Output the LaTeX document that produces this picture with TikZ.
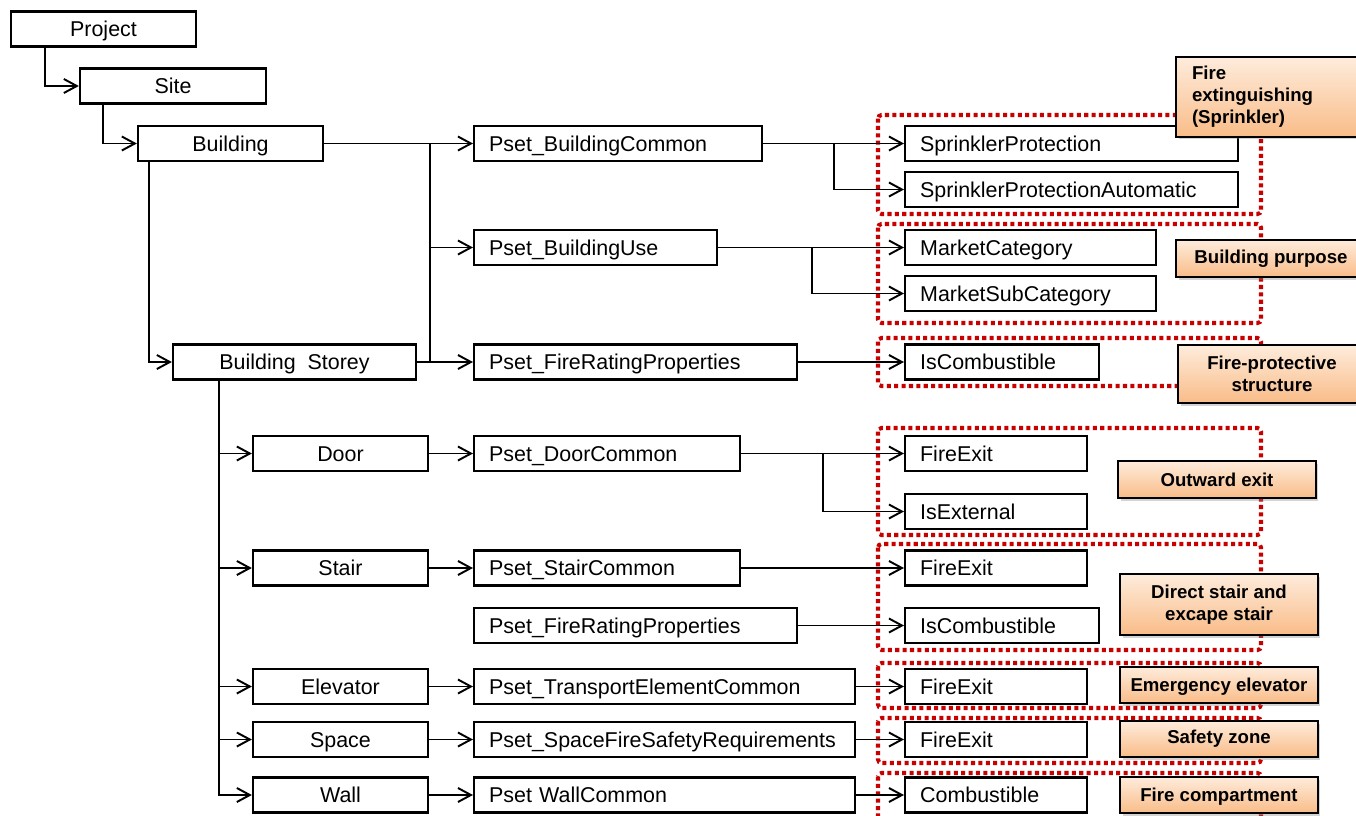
\documentclass[tikz,border=0pt]{standalone}
\usepackage{fontspec}
\setmainfont{Liberation Sans}
\usetikzlibrary{arrows.meta,shadows}
\definecolor{zonered}{RGB}{200,0,0}
\definecolor{notetop}{RGB}{254,236,220}
\definecolor{notebottom}{RGB}{249,188,136}
\hyphenpenalty=10000

\begin{document}
\begin{tikzpicture}[x=0.02cm, y=-0.02cm,
  box/.style={draw, fill=white, line width=1.3pt, minimum height=0.7cm, inner sep=0pt, text height=11.7pt, text depth=3pt, font=\fontsize{12.2}{15}\selectfont},
  cbox/.style={box, minimum width=#1},
  lbox/.style={box, anchor=west, text width=#1, align=left, inner xsep=0.3cm},
  note/.style={draw, line width=1.3pt, top color=notetop, bottom color=notebottom, inner sep=0pt, align=center, font=\fontsize{10.6}{12.5}\selectfont\bfseries, drop shadow={shadow xshift=0.05cm, shadow yshift=-0.05cm, opacity=0.35}},
  zone/.style={draw=zonered, line width=2.3pt, dash pattern=on 2.3pt off 1.9pt, rounded corners=2pt},
  arr/.style={line width=1.1pt, -{Straight Barb[length=0.26cm, width=0.28cm]}}]
\useasboundingbox (0,0) rectangle (1356,815);
\clip (0,0) rectangle (1356,815);

\foreach \ya/\yb in {115/214, 224/323, 338/386, 428/535, 544/650, 663/708, 718/763, 773/840}
  \draw[zone] (878,\ya) rectangle (1261,\yb);

\node[cbox=3.7cm] (Project) at (103.5,29) {Project};
\node[cbox=3.72cm] (Site) at (173,86) {Site};
\node[cbox=3.7cm] (Building) at (230.5,143.5) {Building};
\node[cbox=4.86cm] (Storey) at (294.5,362) {Building\ \ Storey};

\node[lbox=5.16cm] (PBC) at (473,143.5) {Pset\_BuildingCommon};
\node[lbox=4.26cm] (PBU) at (473,247.5) {Pset\_BuildingUse};
\node[lbox=5.86cm] (PFR) at (473,362) {Pset\_FireRatingProperties};

\node[lbox=6.06cm] (SP) at (904,143.5) {SprinklerProtection};
\node[lbox=6.06cm] (SPA) at (904,189.5) {SprinklerProtectionAutomatic};
\node[lbox=4.42cm] (MC) at (904,247.5) {MarketCategory};
\node[lbox=4.42cm] (MSC) at (904,293.5) {MarketSubCategory};
\node[lbox=3.28cm] (IsComb) at (904,362) {IsCombustible};

\node[cbox=3.5cm] (Door) at (340.5,453.5) {Door};
\node[lbox=4.72cm] (PDC) at (473,453.5) {Pset\_DoorCommon};
\node[lbox=3.04cm] (FireExitA) at (904,453.5) {FireExit};
\node[lbox=3.04cm] (IsExt) at (904,511.5) {IsExternal};

\node[cbox=3.5cm] (Stair) at (340.5,568) {Stair};
\node[lbox=4.72cm] (PSC) at (473,568) {Pset\_StairCommon};
\node[lbox=3.04cm] (FireExitB) at (904,568) {FireExit};
\node[lbox=5.86cm] (PFRB) at (473,625.5) {Pset\_FireRatingProperties};
\node[lbox=3.28cm] (IsCombB) at (904,625.5) {IsCombustible};

\node[cbox=3.5cm] (Elevator) at (340.5,686.5) {Elevator};
\node[lbox=7.02cm] (PTEC) at (473,686.5) {Pset\_TransportElementCommon};
\node[lbox=3.04cm] (FireExitC) at (904,686.5) {FireExit};

\node[cbox=3.5cm] (Space) at (340.5,739.5) {Space};
\node[lbox=7.02cm] (PSFSR) at (473,739.5) {Pset\_SpaceFireSafetyRequirements};
\node[lbox=3.04cm] (FireExitD) at (904,739.5) {FireExit};

\node[cbox=3.5cm] (Wall) at (340.5,795) {Wall};
\node[lbox=7.02cm] (PWC) at (473,795) {Pset WallCommon};
\node[lbox=3.04cm] (Comb) at (904,795) {Combustible};

\draw[arr] ([xshift=0.7cm]Project.south west) |- (Site);
\draw[arr] ([xshift=0.48cm]Site.south west) |- (Building);
\draw[arr] ([xshift=0.24cm]Building.south west) |- (Storey);
\draw[arr] (Building) -- (PBC);
\draw[arr] (Storey) -- (PFR);
\coordinate (bus) at (430,143.5);
\draw[line width=1.1pt] (bus) -- (bus |- Storey);
\draw[arr] (bus) |- (PBU);

\draw[arr] (PBC) -- (SP);
\draw[arr] ([xshift=1.42cm]PBC.east) |- (SPA);
\draw[arr] (PBU) -- (MC);
\draw[arr] ([xshift=1.88cm]PBU.east) |- (MSC);
\draw[arr] (PFR) -- (IsComb);

\foreach \n in {Door,Stair,Elevator,Space,Wall}
  \draw[arr] ([xshift=0.94cm]Storey.south west) |- (\n);

\draw[arr] (Door) -- (PDC);
\draw[arr] (PDC) -- (FireExitA);
\draw[arr] ([xshift=1.64cm]PDC.east) |- (IsExt);
\draw[arr] (Stair) -- (PSC);
\draw[arr] (PSC) -- (FireExitB);
\draw[arr] (PFRB) -- (IsCombB);
\draw[arr] (Elevator) -- (PTEC);
\draw[arr] (PTEC) -- (FireExitC);
\draw[arr] (Space) -- (PSFSR);
\draw[arr] (PSFSR) -- (FireExitD);
\draw[arr] (Wall) -- (PWC);
\draw[arr] (PWC) -- (Comb);

\node[note, minimum width=3.8cm, minimum height=1.6cm, text width=3.16cm, align=left] (Sprinkler) at (1271,97) {Fire\\extinguishing\\(Sprinkler)};
\node[note, minimum width=3.8cm, minimum height=0.74cm] (Purpose) at (1271,258.5) {Building purpose};
\node[note, minimum width=3.76cm, minimum height=1.16cm] (Protective) at (1272,374) {Fire-protective\\structure};
\node[note, minimum width=3.96cm, minimum height=0.74cm] (Outward) at (1217,479.5) {Outward exit};
\node[note, minimum width=3.96cm, minimum height=1.22cm] (Escape) at (1219,604.5) {Direct stair and\\excape stair};
\node[note, minimum width=3.96cm, minimum height=0.72cm, text depth=0pt] (Emergency) at (1219,685) {Emergency elevator};
\node[note, minimum width=3.96cm, minimum height=0.72cm] (Safety) at (1219,739) {Safety zone};
\node[note, minimum width=3.96cm, minimum height=0.72cm, text depth=0pt] (Compartment) at (1219,795) {Fire compartment};
\end{tikzpicture}
\end{document}
